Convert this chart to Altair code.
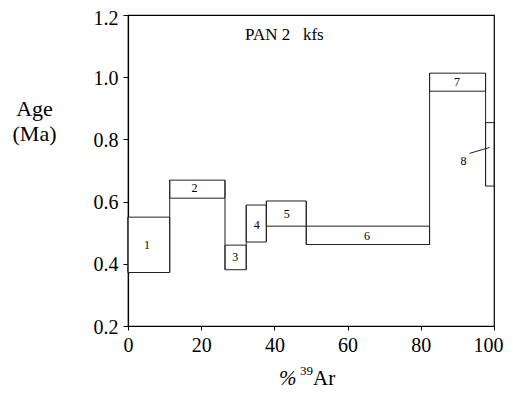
import altair as alt
import pandas as pd

# Step data (percent 39Ar cumulative, age Ma)
step_ids = ["1", "2", "3", "4", "5", "6", "7", "8"]
x_start = [0.0, 11.4, 26.5, 32.3, 37.8, 48.7, 82.4, 97.7]
x_end = [11.4, 26.5, 32.3, 37.8, 48.7, 82.4, 97.7, 100.0]
age_low = [0.372, 0.611, 0.381, 0.470, 0.521, 0.462, 0.955, 0.650]
age_high = [0.550, 0.669, 0.460, 0.589, 0.602, 0.521, 1.013, 0.854]

# Step label positions
label_x = [5.2, 18.2, 29.3, 35.2, 43.4, 65.3, 89.9, 91.7]
label_y = [0.46, 0.643, 0.423, 0.526, 0.560, 0.490, 0.983, 0.732]

# Leader line for step 8
leader_x = [93.3]
leader_x2 = [98.8]
leader_y = [0.755]
leader_y2 = [0.774]

y_ticks = [0.2, 0.3, 0.4, 0.5, 0.6, 0.7, 0.8, 0.9, 1.0, 1.1, 1.2]
x_ticks = [0, 10, 20, 30, 40, 50, 60, 70, 80, 90, 100]

SERIF = "Liberation Serif"

boxes = pd.DataFrame({"id": step_ids, "x": x_start, "x2": x_end,
                      "y": age_low, "y2": age_high})
labels = pd.DataFrame({"id": step_ids, "x": label_x, "y": label_y})
leader = pd.DataFrame({"x": leader_x, "x2": leader_x2, "y": leader_y, "y2": leader_y2})

# vertical connectors between adjacent steps (span of both neighbours)
conn_rows = []
for i in range(len(step_ids)):
    if i == 0:
        lo, hi = age_low[0], age_high[0]
    else:
        lo = min(age_low[i - 1], age_low[i])
        hi = max(age_high[i - 1], age_high[i])
    conn_rows.append({"x": x_start[i], "y": lo, "y2": hi})
conn = pd.DataFrame(conn_rows)

xscale = alt.Scale(domain=[0, 100], nice=False, zero=False)
yscale = alt.Scale(domain=[0.2, 1.2], nice=False, zero=False)

xaxis = alt.Axis(
    values=x_ticks, title=None, grid=False,
    labelExpr="datum.value % 20 == 0 ? datum.label : ''",
    labelFont=SERIF, labelFontSize=20, labelColor="black",
    labelPadding=5, labelFlush=False,
    labelOffset={"condition": {"test": "datum.value == 100", "value": -6}, "value": 0},
    tickSize={"condition": {"test": "datum.value % 20 != 0", "value": 2}, "value": 4},
    tickColor="black", domainColor="black", domainWidth=1.2,
)
yaxis = alt.Axis(
    values=y_ticks, title=["Age", "(Ma)"], grid=False, format=".1f",
    labelExpr="round(datum.value*10) % 2 == 0 ? format(datum.value, '.1f') : ''",
    labelFont=SERIF, labelFontSize=20, labelColor="black", labelPadding=5,
    labelOffset={"condition": {"test": "datum.value > 1.15", "value": 3}, "value": 1},
    tickSize={"condition": {"test": "round(datum.value*10) % 2 == 1", "value": 2}, "value": 5},
    tickColor="black", domainColor="black", domainWidth=1.2,
    titleAngle=0, titleAlign="center", titleBaseline="alphabetic",
    titleX=-94, titleY=100, titleFont=SERIF, titleFontSize=22,
    titleFontWeight="normal", titleColor="black", titleLineHeight=25,
)

rects = alt.Chart(boxes).mark_rect(fill="white", stroke="#222", strokeWidth=1).encode(
    x=alt.X("x:Q", scale=xscale, axis=xaxis),
    x2="x2:Q",
    y=alt.Y("y:Q", scale=yscale, axis=yaxis),
    y2="y2:Q",
)

verts = alt.Chart(conn).mark_rule(color="#222", strokeWidth=1).encode(
    x=alt.X("x:Q", scale=xscale), y=alt.Y("y:Q", scale=yscale), y2="y2:Q")

texts = alt.Chart(labels).mark_text(font=SERIF, fontSize=12, color="black",
                                    align="center", baseline="middle").encode(
    x=alt.X("x:Q", scale=xscale), y=alt.Y("y:Q", scale=yscale), text="id:N")

lead = alt.Chart(leader).mark_rule(color="#222", strokeWidth=1).encode(
    x=alt.X("x:Q", scale=xscale), x2="x2:Q",
    y=alt.Y("y:Q", scale=yscale), y2="y2:Q")

title_df = pd.DataFrame({"t": ["PAN 2\u00a0\u00a0\u00a0kfs"]})
title = alt.Chart(title_df).mark_text(font=SERIF, fontSize=17, color="black",
                                      align="left", baseline="alphabetic").encode(
    x=alt.value(117), y=alt.value(25), text="t:N")

pct = alt.Chart(pd.DataFrame({"t": ["%"]})).mark_text(
    font=SERIF, fontSize=21, fontStyle="italic", color="black",
    align="left", baseline="alphabetic").encode(
    x=alt.value(151), y=alt.value(370), text="t:N")
sup = alt.Chart(pd.DataFrame({"t": ["39"]})).mark_text(
    font=SERIF, fontSize=13, color="black",
    align="left", baseline="alphabetic").encode(
    x=alt.value(172), y=alt.value(360), text="t:N")
ar = alt.Chart(pd.DataFrame({"t": ["Ar"]})).mark_text(
    font=SERIF, fontSize=21, color="black",
    align="left", baseline="alphabetic").encode(
    x=alt.value(185), y=alt.value(370), text="t:N")

chart = alt.layer(rects, verts, lead, texts, title, pct, sup, ar).properties(
    width=366, height=311,
    autosize=alt.AutoSizeParams(type="none"),
    padding={"left": 120, "top": 7, "right": 11, "bottom": 66},
    background="white",
).configure_view(stroke="black", strokeWidth=1.2)

chart.save("out.html", embed_options={"renderer": "svg", "actions": False})
